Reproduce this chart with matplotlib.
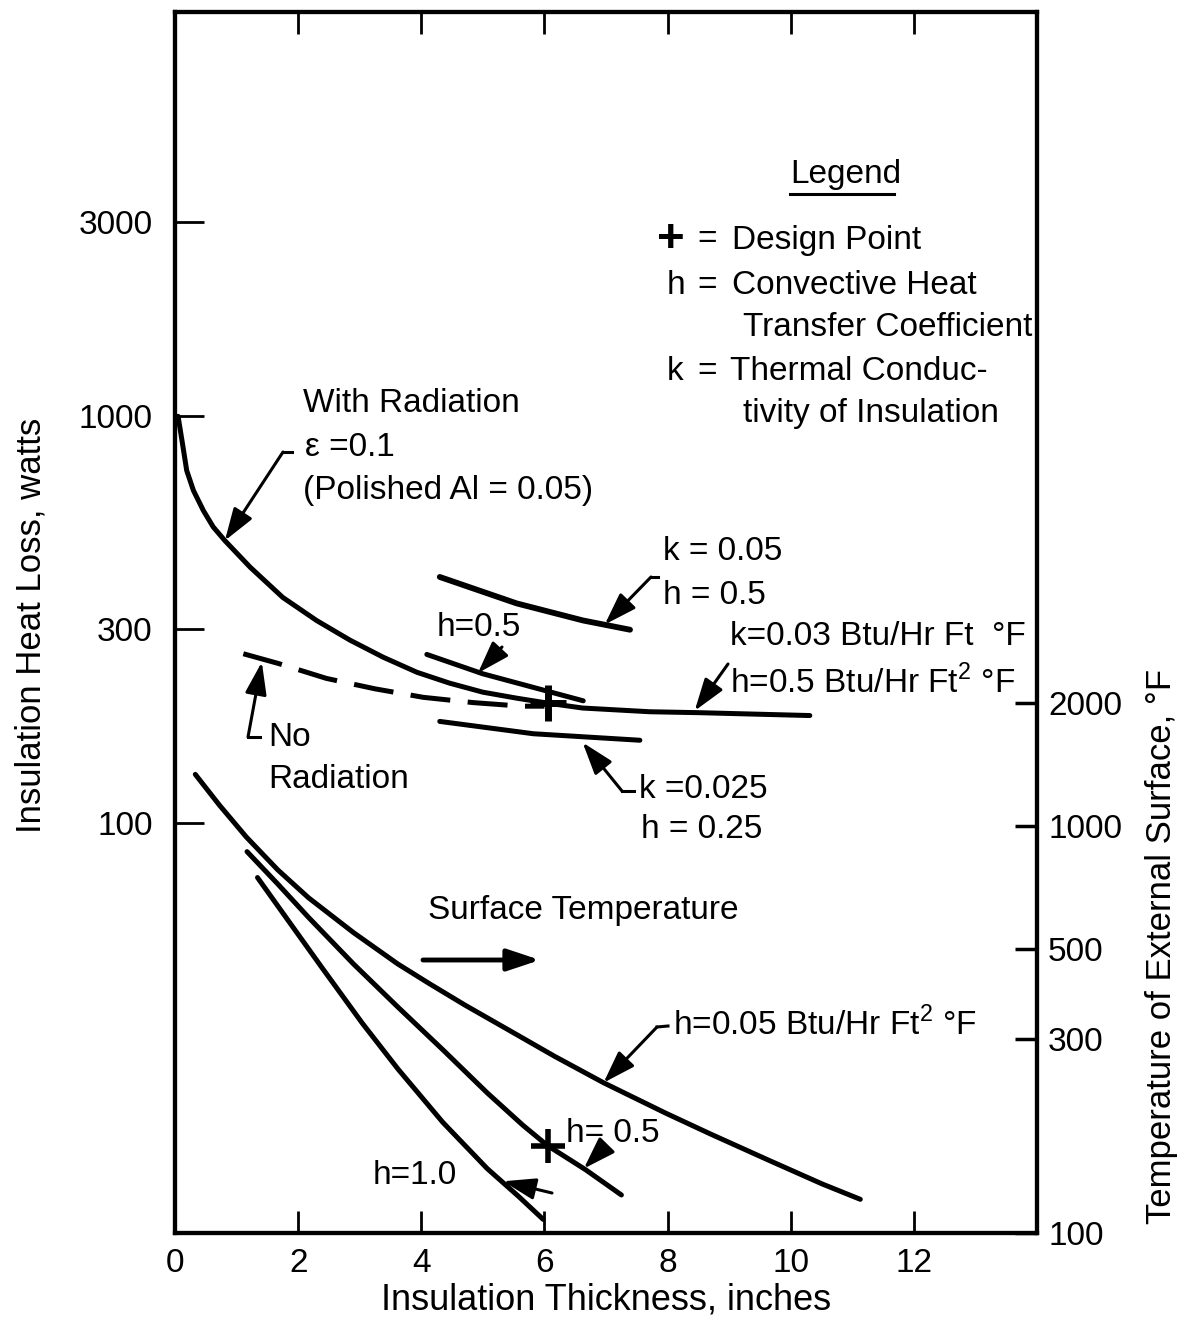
import matplotlib
matplotlib.use('Agg')
import matplotlib.pyplot as plt
from matplotlib.lines import Line2D
from matplotlib.ticker import FixedLocator, NullLocator, FixedFormatter

plt.rcParams['font.family'] = ['Liberation Sans', 'DejaVu Sans']
plt.rcParams['mathtext.fontset'] = 'custom'
plt.rcParams['mathtext.rm'] = 'Liberation Sans'

# --- data ---
# heat loss (watts) vs insulation thickness (inches), left axis
rad_x = [0.05, 0.13, 0.19, 0.30, 0.46, 0.62, 0.81, 1.22, 1.75, 2.3, 2.84, 3.38, 3.93, 4.46,
         5.0, 5.55, 6.09, 6.62, 7.71, 8.52, 10.31]
rad_y = [1000, 841, 736, 657, 587, 535, 495, 426, 359, 315, 282, 256, 235, 221,
         210, 203, 197, 192, 188, 187, 184]

norad_x = [1.11, 1.68, 2.46, 3.25, 4.03, 4.84, 5.63, 6.0]
norad_y = [261, 247, 227, 214, 204, 198, 194, 194]

k05_x = [4.30, 5.55, 6.63, 7.39]
k05_y = [403, 347, 315, 299]

h05_x = [4.09, 5.0, 6.63]
h05_y = [260, 233, 200]

k025_x = [4.30, 5.82, 7.55]
k025_y = [178, 166, 160]

# surface temperature (deg F) vs thickness, right axis
t005_x = [0.33, 0.72, 1.16, 1.67, 2.17, 2.90, 3.62, 4.13, 4.71, 5.44, 6.16, 6.96,
          7.97, 8.70, 9.64, 10.51, 11.13]
t005_y = [1339, 1126, 939, 780, 666, 547, 458, 410, 363, 314, 272, 234,
          197, 175, 151, 132, 121]

t05_x = [1.17, 1.67, 2.17, 2.90, 3.62, 4.35, 5.07, 5.65, 6.05, 6.67, 7.25]
t05_y = [865, 720, 596, 458, 359, 282, 221, 184, 164, 143, 124]

t10_x = [1.34, 1.81, 2.39, 3.04, 3.62, 4.35, 5.07, 5.58, 5.98]
t10_y = [747, 594, 448, 328, 253, 187, 144, 123, 108]

design_x = [6.05]
design_loss = [198]
design_temp = [164]

x_ticks = [0, 2, 4, 6, 8, 10, 12]
left_ticks = [100, 300, 1000, 3000]
right_ticks = [100, 300, 500, 1000, 2000]

W, H = 1179, 1330


def fp(px, py):
    # figure pixel -> figure fraction
    return (px / W, 1 - py / H)


fig = plt.figure(figsize=(W / 100, H / 100), dpi=100)
ax = fig.add_axes([175 / W, 97 / H, 862 / W, 1221 / H])
ax2 = ax.twinx()

LW = 3.6
ax.plot(rad_x, rad_y, color='k', lw=LW, solid_capstyle='round')
ax.plot(norad_x, norad_y, color='k', lw=LW, dashes=(8, 3.5))
ax.plot(k05_x, k05_y, color='k', lw=LW + 0.6, solid_capstyle='round')
ax.plot(h05_x, h05_y, color='k', lw=LW, solid_capstyle='round')
ax.plot(k025_x, k025_y, color='k', lw=LW, solid_capstyle='round')
ax.plot(design_x, design_loss, marker='+', ms=26, mew=5, color='k', ls='none')

ax2.plot(t005_x, t005_y, color='k', lw=LW, solid_capstyle='round')
ax2.plot(t05_x, t05_y, color='k', lw=LW, solid_capstyle='round')
ax2.plot(t10_x, t10_y, color='k', lw=LW, solid_capstyle='round')
ax2.plot(design_x, design_temp, marker='+', ms=24, mew=4, color='k', ls='none')

# axes
ax.set_xlim(0, 14)
ax.set_yscale('log')
ax.set_ylim(9.85, 9850)
ax2.set_yscale('log')
ax2.set_ylim(100, 1e5)

ax.xaxis.set_major_locator(FixedLocator(x_ticks))
ax.set_xticklabels([str(v) for v in x_ticks])
ax.yaxis.set_major_locator(FixedLocator(left_ticks))
ax.yaxis.set_major_formatter(FixedFormatter([str(v) for v in left_ticks]))
ax.yaxis.set_minor_locator(NullLocator())
ax2.yaxis.set_major_locator(FixedLocator(right_ticks))
ax2.yaxis.set_major_formatter(FixedFormatter([str(v) for v in right_ticks]))
ax2.yaxis.set_minor_locator(NullLocator())

for a in (ax, ax2):
    for s in a.spines.values():
        s.set_linewidth(3)

ax.tick_params(axis='x', which='major', direction='in', length=16, width=2,
               top=True, labelsize=24, pad=11)
ax.tick_params(axis='y', which='major', direction='in', length=21, width=2,
               labelsize=24, pad=16, right=False)
ax2.tick_params(axis='y', which='major', direction='in', length=16, width=2.5,
                labelsize=24, pad=8)

ax.set_xlabel('Insulation Thickness, inches', fontsize=26, labelpad=2)
ax.set_ylabel('Insulation Heat Loss, watts', fontsize=25, va='center', ha='center')
ax.yaxis.set_label_coords(-0.167, 0.498)
ax2.set_ylabel('Temperature of External Surface, \u00b0F', fontsize=25,
               va='center', ha='center', rotation=90)
ax2.yaxis.set_label_coords(1.145, 0.235)

FS = 24


def txt(px, py, s, **kw):
    fig.text(*fp(px, py), s, ha='left', va='center', fontsize=kw.pop('fontsize', FS), **kw)


def hook(x1, y1, x2, y2):
    (a, b), (c, d) = fp(x1, y1), fp(x2, y2)
    fig.add_artist(Line2D([a, c], [b, d], transform=fig.transFigure, color='k', lw=2.2))


arrow = dict(arrowstyle='-|>,head_length=0.9,head_width=0.3', color='k', lw=2.2,
             mutation_scale=22, shrinkA=0, shrinkB=0)


def point_to(axis, x, y, px, py):
    axis.annotate('', xy=(x, y), xycoords='data', xytext=fp(px, py),
                  textcoords='figure fraction', arrowprops=arrow)


# legend block
txt(790, 175, 'Legend')
hook(790, 194, 894, 194)
txt(657, 240, '+', fontsize=34, fontweight='bold')
txt(697, 240, '=')
txt(732, 240, 'Design Point')
txt(667, 285, 'h')
txt(697, 285, '=')
txt(732, 285, 'Convective Heat')
txt(743, 327, 'Transfer Coefficient')
txt(667, 371, 'k')
txt(697, 371, '=')
txt(730, 371, 'Thermal Conduc-')
txt(743, 413, 'tivity of Insulation')

# upper curve labels
txt(303, 403, 'With Radiation')
txt(305, 448, '\u03b5 =0.1')
txt(303, 490, '(Polished Al = 0.05)')
hook(283, 452, 292, 452)
point_to(ax, 0.81, 495, 283, 452)

txt(437, 627, 'h=0.5')
point_to(ax, 4.92, 234, 502, 647)

txt(268, 737, 'No')
txt(268, 779, 'Radiation')
hook(248, 737, 260, 737)
point_to(ax, 1.41, 249, 248, 737)

txt(663, 552, 'k = 0.05')
txt(663, 596, 'h = 0.5')
hook(651, 577, 658, 577)
point_to(ax, 6.98, 308, 651, 577)

txt(730, 637, 'k=0.03 Btu/Hr Ft  \u00b0F')
txt(730, 682, r'h=0.5 Btu/Hr Ft$^{\mathrm{2}}$ ' + '\u00b0F')
point_to(ax, 8.44, 189, 728, 664)

txt(639, 790, 'k =0.025')
txt(641, 830, 'h = 0.25')
hook(622, 791, 634, 791)
point_to(ax, 6.62, 158, 622, 791)

# lower curve labels
txt(428, 910, 'Surface Temperature')
ax.annotate('', xy=fp(540, 960), xycoords='figure fraction', xytext=fp(423, 960),
            textcoords='figure fraction', arrowprops=dict(arrow, lw=3.5))

txt(673, 1025, r'h=0.05 Btu/Hr Ft$^{\mathrm{2}}$ ' + '\u00b0F')
hook(657, 1027, 668, 1026)
point_to(ax2, 6.96, 234, 657, 1027)

txt(566, 1133, 'h= 0.5')
point_to(ax2, 6.64, 144, 604, 1148)

txt(373, 1175, 'h=1.0')
point_to(ax2, 5.33, 134, 552, 1193)

fig.savefig('out.png', dpi=100)
